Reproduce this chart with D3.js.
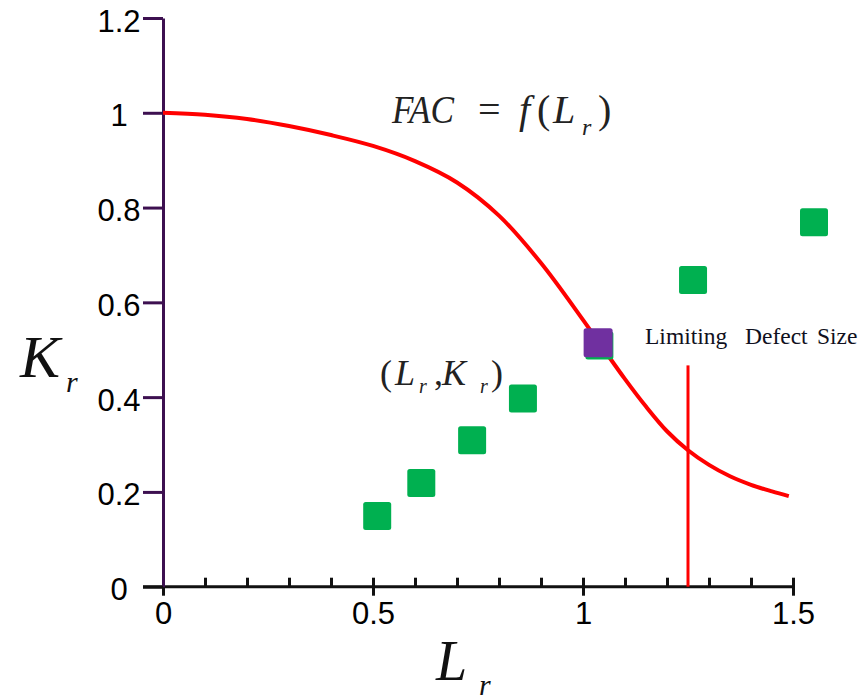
<!DOCTYPE html>
<html>
<head>
<meta charset="utf-8">
<script src="https://cdn.jsdelivr.net/npm/d3@7"></script>
<style>
  html, body { margin: 0; padding: 0; background: #fff; }
  svg { display: block; }
</style>
</head>
<body>
<svg id="chart" width="868" height="700"></svg>
<script>
// ---- data ----
const xMajorTicks = [0, 0.5, 1, 1.5];
const xMinorTicks = [0.1, 0.2, 0.3, 0.4, 0.6, 0.7, 0.8, 0.9, 1.1, 1.2, 1.3, 1.4];
const yTicks = [0, 0.2, 0.4, 0.6, 0.8, 1, 1.2];

const curveL = [0, 0.1, 0.2, 0.3, 0.4, 0.5, 0.6, 0.7, 0.8, 0.9, 1.0, 1.05, 1.1, 1.15, 1.2, 1.25, 1.3, 1.35, 1.4, 1.45, 1.49];
const curveK = [1.0, 0.996, 0.987, 0.972, 0.953, 0.93, 0.898, 0.853, 0.783, 0.683, 0.563, 0.5, 0.438, 0.38, 0.328, 0.288, 0.257, 0.233, 0.215, 0.201, 0.191];

const greenL = [0.51, 0.615, 0.736, 0.857, 1.039, 1.262, 1.55];
const greenK = [0.149, 0.219, 0.309, 0.397, 0.509, 0.647, 0.769];
const purpleL = [1.036];
const purpleK = [0.515];

const limitL = 1.25;
const limitK = 0.467;

// ---- scales ----
const svg = d3.select("#chart");
const x = d3.scaleLinear().domain([0, 1.5]).range([163, 793]);
const y = d3.scaleLinear().domain([0, 1.2]).range([586.7, 18]);

const axisColor = "#111";
const yAxisColor = "#3d1050";

// ---- x axis ----
svg.append("line")
  .attr("x1", x(0) - 20).attr("x2", x(1.5))
  .attr("y1", y(0)).attr("y2", y(0))
  .attr("stroke", axisColor).attr("stroke-width", 3);

const gxMinor = svg.append("g").attr("transform", `translate(0,${y(0)})`)
  .call(d3.axisBottom(x).tickValues(xMinorTicks).tickSizeInner(-9).tickSizeOuter(0).tickFormat(""));
gxMinor.select(".domain").remove();
gxMinor.selectAll(".tick line").attr("stroke", axisColor).attr("stroke-width", 3);

const gxMajor = svg.append("g").attr("transform", `translate(0,${y(0)})`)
  .call(d3.axisBottom(x).tickValues(xMajorTicks).tickSizeInner(9).tickSizeOuter(0).tickPadding(6)
    .tickFormat(d => d3.format("")(d)));
gxMajor.select(".domain").remove();
gxMajor.selectAll(".tick line").attr("y1", -9).attr("stroke", axisColor).attr("stroke-width", 3);
gxMajor.selectAll(".tick text")
  .attr("font-family", "'Liberation Sans', Arial, sans-serif")
  .attr("font-size", 31).attr("fill", "#000");

// ---- y axis ----
const gy = svg.append("g").attr("transform", `translate(${x(0)},0)`)
  .call(d3.axisLeft(y).tickValues(yTicks).tickSizeInner(20).tickSizeOuter(0).tickPadding(6)
    .tickFormat(d => d3.format("")(d)));
gy.select(".domain").attr("stroke", yAxisColor).attr("stroke-width", 3);
gy.selectAll(".tick line").attr("stroke", yAxisColor).attr("stroke-width", 3);
gy.selectAll(".tick").filter(d => d === 0).select("line").attr("stroke", axisColor);
gy.selectAll(".tick text")
  .attr("text-anchor", "middle").attr("x", -44).attr("dy", "0.42em")
  .attr("font-family", "'Liberation Sans', Arial, sans-serif")
  .attr("font-size", 31).attr("fill", "#000");

// ---- FAC curve ----
const curveData = curveL.map((l, i) => ({ l, k: curveK[i] }));
svg.append("path")
  .datum(curveData)
  .attr("fill", "none").attr("stroke", "#ff0000").attr("stroke-width", 4)
  .attr("d", d3.line().x(d => x(d.l)).y(d => y(d.k)).curve(d3.curveCatmullRom));

// ---- limiting defect size line ----
svg.append("line")
  .attr("x1", x(limitL)).attr("x2", x(limitL))
  .attr("y1", y(limitK)).attr("y2", y(0))
  .attr("stroke", "#ff0000").attr("stroke-width", 3);

// ---- squares ----
const sq = 28;
const greenData = greenL.map((l, i) => ({ l, k: greenK[i] }));
svg.selectAll("rect.green").data(greenData).join("rect")
  .attr("class", "green")
  .attr("x", d => x(d.l) - sq / 2).attr("y", d => y(d.k) - sq / 2)
  .attr("width", sq).attr("height", sq).attr("rx", 2.5)
  .attr("fill", "#00b050");

const purpleData = purpleL.map((l, i) => ({ l, k: purpleK[i] }));
svg.selectAll("rect.purple").data(purpleData).join("rect")
  .attr("class", "purple")
  .attr("x", d => x(d.l) - 14.5).attr("y", d => y(d.k) - 14.5)
  .attr("width", 29).attr("height", 29).attr("rx", 2.5)
  .attr("fill", "#7030a0");

// ---- text annotations ----
const serif = "'Liberation Serif', 'Times New Roman', serif";
function t(txt, tx, ty, size, italic, anchor) {
  return svg.append("text").attr("x", tx).attr("y", ty)
    .attr("font-family", serif).attr("font-size", size)
    .attr("font-style", italic ? "italic" : "normal")
    .attr("text-anchor", anchor || "start")
    .attr("fill", "#222").text(txt);
}
// FAC = f(L_r)
t("FAC", 392, 123, 40, true).attr("textLength", 62).attr("lengthAdjust", "spacingAndGlyphs");
t("=", 478, 123, 40, false);
t("f", 519, 123, 40, true);
t("(", 537, 123, 40, false);
t("L", 553, 123, 40, true);
t("r", 582, 135, 24, true);
t(")", 598, 123, 40, false);

// (L_r, K_r)
t("(", 380, 385, 36, false);
t("L", 395, 385, 36, true);
t("r", 419, 393, 20, true);
t(",", 434, 385, 36, false);
t("K", 442, 385, 36, true);
t("r", 480, 393, 20, true);
t(")", 491, 385, 36, false);

// Limiting Defect Size
svg.append("text").attr("y", 344)
  .attr("font-family", serif).attr("font-size", 23.5).attr("fill", "#101020")
  .selectAll("tspan").data([["Limiting", 645], ["Defect", 745], ["Size", 817]]).join("tspan")
  .attr("x", d => d[1]).text(d => d[0]);

// Axis titles
t("K", 20, 377, 60, true).attr("fill", "#111");
t("r", 66, 392, 30, true).attr("fill", "#111");
t("L", 436, 680, 56, true).attr("fill", "#111");
t("r", 479, 695, 30, true).attr("fill", "#111");
</script>
</body>
</html>
